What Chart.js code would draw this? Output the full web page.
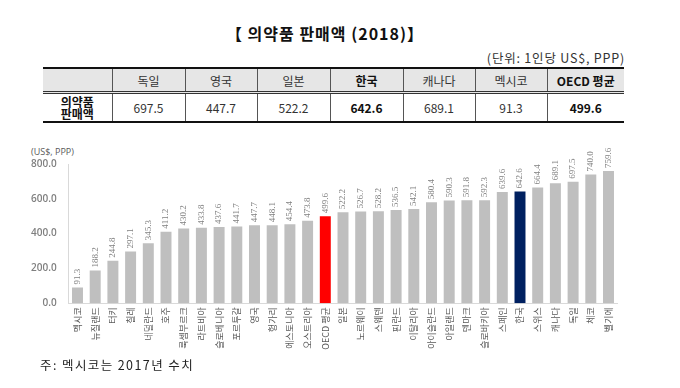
<!DOCTYPE html>
<html>
<head>
<meta charset="utf-8">
<script src="https://cdn.jsdelivr.net/npm/chart.js@4.4.0/dist/chart.umd.min.js"></script>
<style>
    body { margin: 0; background: #fff; font-family: "Noto Sans CJK KR", sans-serif; color: #222; }
    #page { position: relative; width: 680px; height: 388px; overflow: hidden; }
    .title { position: absolute; left: 0; width: 650px; top: 21px; text-align: center; font-size: 16px; letter-spacing: 1px; font-weight: bold; color: #111; }
    .unit { position: absolute; right: 55px; top: 48px; font-size: 12.5px; letter-spacing: 0.8px; color: #333; }
    table.summary { position: absolute; left: 43px; top: 67px; width: 581px; border-collapse: collapse; table-layout: fixed; font-size: 12px; }
    table.summary td { text-align: center; border-left: 1px solid #555; padding: 0; color: #333; }
    table.summary td:first-child { border-left: none; }
    table.summary tr.head td { background: #e6e6e6; height: 22px; border-top: 2px solid #111; border-bottom: 3px double #333; }
    table.summary tr.vals td { height: 27px; border-bottom: 2px solid #111; }
    table.summary .b { font-weight: bold; color: #111; }
    table.summary .rowhead { font-weight: bold; line-height: 12px; color: #111; }
    .axis-unit { position: absolute; left: 31px; top: 145px; font-family: "Open Sans", sans-serif; font-size: 9px; color: #595959; }
    #chartBox { position: absolute; left: 0; top: 140px; width: 680px; height: 220px; }
    .note { position: absolute; left: 40px; top: 355px; font-size: 12.5px; letter-spacing: 1.4px; color: #222; }
</style>
</head>
<body>
<div id="page">
    <div class="title">【 의약품 판매액 (2018)】</div>
    <div class="unit">(단위: 1인당 US$, PPP)</div>
    <table class="summary">
        <colgroup>
            <col style="width:69px"><col style="width:73px"><col style="width:72px"><col style="width:73px">
            <col style="width:73px"><col style="width:72px"><col style="width:72px"><col style="width:77px">
        </colgroup>
        <tr class="head" id="tableHead"></tr>
        <tr class="vals" id="tableVals"></tr>
    </table>
    <div class="axis-unit">(US$, PPP)</div>
    <div id="chartBox"><canvas id="salesCanvas" width="680" height="220"></canvas></div>
    <div class="note">주: 멕시코는 2017년 수치</div>
</div>

<script>
// table on top
var table_countries = ['독일', '영국', '일본', '한국', '캐나다', '멕시코', 'OECD 평균'];
var table_values = ['697.5', '447.7', '522.2', '642.6', '689.1', '91.3', '499.6'];
var table_bold = ['한국', 'OECD 평균'];

// bar chart
var countries = ['멕시코', '뉴질랜드', '터키', '칠레', '네덜란드', '호주', '룩셈부르크', '라트비아',
    '슬로베니아', '포르투갈', '영국', '헝가리', '에스토니아', '오스트리아', 'OECD 평균', '일본',
    '노르웨이', '스웨덴', '핀란드', '이탈리아', '아이슬란드', '아일랜드', '덴마크', '슬로바키아',
    '스페인', '한국', '스위스', '캐나다', '독일', '체코', '벨기에'];
var sales = [91.3, 188.2, 244.8, 297.1, 345.3, 411.2, 430.2, 433.8,
    437.6, 441.7, 447.7, 448.1, 454.4, 473.8, 499.6, 522.2,
    526.7, 528.2, 536.5, 542.1, 580.4, 590.3, 591.8, 592.3,
    639.6, 642.6, 664.4, 689.1, 697.5, 740.0, 759.6];
var y_ticks = [0, 200, 400, 600, 800];

var head = document.getElementById('tableHead');
var vals = document.getElementById('tableVals');
head.innerHTML = '<td></td>';
vals.innerHTML = '<td class="rowhead">의약품<br>판매액</td>';
for (var i = 0; i < table_countries.length; i++) {
    var cls = table_bold.indexOf(table_countries[i]) >= 0 ? ' class="b"' : '';
    head.innerHTML += '<td' + cls + '>' + table_countries[i] + '</td>';
    vals.innerHTML += '<td' + cls + '>' + table_values[i] + '</td>';
}

var barColors = countries.map(function (c) {
    if (c === 'OECD 평균') return '#ff0000';
    if (c === '한국') return '#002060';
    return '#bfbfbf';
});

// rotated value labels above each bar
var valueLabels = {
    id: 'valueLabels',
    afterDatasetsDraw: function (chart) {
        var ctx = chart.ctx;
        var meta = chart.getDatasetMeta(0);
        ctx.save();
        ctx.font = '9px "Liberation Sans Narrow", "Liberation Serif", sans-serif';
        ctx.fillStyle = '#808080';
        ctx.textAlign = 'left';
        ctx.textBaseline = 'middle';
        meta.data.forEach(function (bar, i) {
            ctx.save();
            ctx.translate(bar.x, bar.y - 3);
            ctx.rotate(-Math.PI / 2);
            ctx.fillText(sales[i].toFixed(1), 0, 0);
            ctx.restore();
        });
        ctx.restore();
    }
};

var ctx = document.getElementById('salesCanvas');
var salesChart = new Chart(ctx, {
    type: 'bar',
    data: {
        labels: countries,
        datasets: [{
            data: sales,
            backgroundColor: barColors,
            barPercentage: 0.62,
            categoryPercentage: 1.0
        }]
    },
    options: {
        responsive: false,
        animation: false,
        layout: { padding: { top: 24, right: 62.65, bottom: 0, left: 0 } },
        plugins: {
            legend: { display: false },
            tooltip: { enabled: false }
        },
        scales: {
            x: {
                grid: { display: false, drawTicks: false },
                border: { display: true, color: '#d9d9d9' },
                ticks: {
                    autoSkip: false,
                    minRotation: 90,
                    maxRotation: 90,
                    padding: 4,
                    color: '#595959',
                    font: { family: '"Noto Sans CJK KR"', size: 9 }
                },
                afterFit: function (scale) { scale.height = 56.7; }
            },
            y: {
                min: 0,
                max: 800,
                grid: { display: false, drawTicks: false },
                border: { display: true, color: '#d9d9d9' },
                afterBuildTicks: function (scale) {
                    scale.ticks = y_ticks.map(function (v) { return { value: v }; });
                },
                ticks: {
                    padding: 12,
                    color: '#7f7f7f',
                    font: { family: '"Open Sans"', size: 10, weight: '600' },
                    callback: function (v) { return Number(v).toFixed(1); }
                },
                afterFit: function (scale) { scale.width = 68.65; }
            }
        }
    },
    plugins: [valueLabels]
});
</script>
</body>
</html>
